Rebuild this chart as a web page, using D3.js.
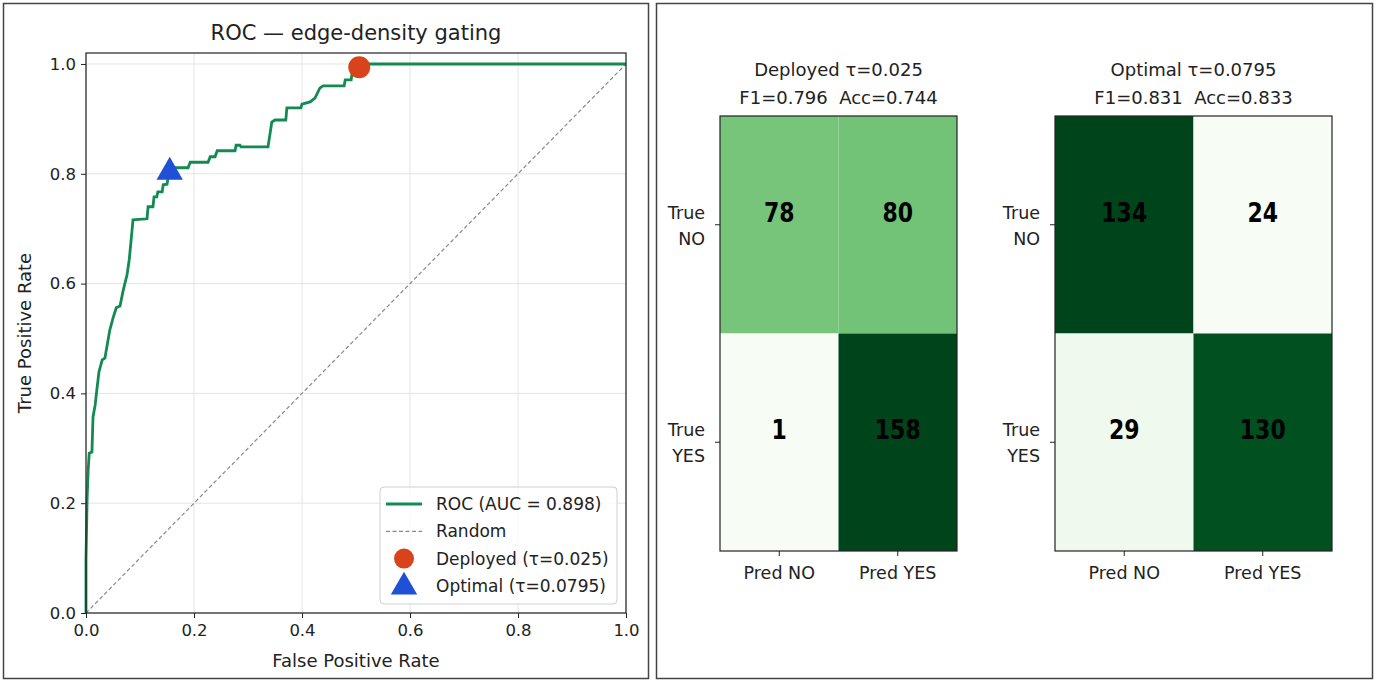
<!DOCTYPE html>
<html>
<head>
<meta charset="utf-8">
<script src="https://cdn.jsdelivr.net/npm/d3@7"></script>
<style>
  body { margin: 0; background: #fff; }
  svg { display: block; font-family: "DejaVu Sans", sans-serif; }
  text { white-space: pre; }
</style>
</head>
<body>
<svg id="chart" width="1379" height="681"></svg>
<script>
// ROC curve points
const rocFpr = [0, 0, 0.002, 0.004, 0.006, 0.011, 0.013, 0.017, 0.020, 0.024, 0.030, 0.035, 0.044, 0.050,
  0.056, 0.063, 0.069, 0.076, 0.080, 0.085, 0.087, 0.113, 0.115, 0.124, 0.126, 0.131, 0.133, 0.141, 0.143,
  0.150, 0.152, 0.156, 0.157, 0.189, 0.193, 0.226, 0.230, 0.239, 0.243, 0.276, 0.278, 0.285, 0.287, 0.337,
  0.341, 0.344, 0.350, 0.370, 0.372, 0.398, 0.400, 0.415, 0.424, 0.433, 0.439, 0.478, 0.480, 0.491, 0.493,
  0.504, 0.507, 0.511, 1.0];
const rocTpr = [0, 0.097, 0.206, 0.260, 0.291, 0.293, 0.357, 0.379, 0.406, 0.439, 0.461, 0.464, 0.515, 0.537,
  0.556, 0.559, 0.588, 0.616, 0.643, 0.694, 0.716, 0.718, 0.740, 0.740, 0.758, 0.758, 0.767, 0.767, 0.780,
  0.781, 0.792, 0.796, 0.811, 0.811, 0.821, 0.821, 0.831, 0.831, 0.842, 0.842, 0.852, 0.852, 0.849, 0.849,
  0.874, 0.894, 0.898, 0.898, 0.920, 0.920, 0.927, 0.931, 0.938, 0.956, 0.960, 0.960, 0.971, 0.971, 0.985,
  0.985, 0.995, 1.0, 1.0];
const deployedPt = [0.506, 0.994];
const optimalPt = [0.155, 0.805];
const legendLabels = ["ROC (AUC = 0.898)", "Random", "Deployed (τ=0.025)", "Optimal (τ=0.0795)"];
const ticks = [0, 0.2, 0.4, 0.6, 0.8, 1.0];

// confusion matrices
const predLabels = ["Pred NO", "Pred YES"];
const trueLabels = [["True", "NO"], ["True", "YES"]];
const deployedCM = [[78, 80], [1, 158]];
const optimalCM = [[134, 24], [29, 130]];
const cmTitles = [["Deployed τ=0.025", "F1=0.796  Acc=0.744"], ["Optimal τ=0.0795", "F1=0.831  Acc=0.833"]];

const svg = d3.select("#chart");

// panel frames
svg.append("rect").attr("x", 3.5).attr("y", 3.5).attr("width", 645).attr("height", 675)
  .attr("fill", "none").attr("stroke", "#444").attr("stroke-width", 1.5);
svg.append("rect").attr("x", 656.5).attr("y", 3.5).attr("width", 716).attr("height", 675)
  .attr("fill", "none").attr("stroke", "#444").attr("stroke-width", 1.5);

// ---------- ROC ----------
const x = d3.scaleLinear().domain([0, 1]).range([86, 626]);
const y = d3.scaleLinear().domain([0, 1.02]).range([613, 53]);

const roc = svg.append("g");

// grid
roc.append("g").selectAll("line").data(ticks).enter().append("line")
  .attr("x1", d => x(d)).attr("x2", d => x(d)).attr("y1", y(1.02)).attr("y2", y(0))
  .attr("stroke", "#e4e4e4").attr("stroke-width", 1);
roc.append("g").selectAll("line").data(ticks).enter().append("line")
  .attr("y1", d => y(d)).attr("y2", d => y(d)).attr("x1", x(0)).attr("x2", x(1))
  .attr("stroke", "#e4e4e4").attr("stroke-width", 1);

// axes
const xAxis = roc.append("g").attr("transform", "translate(0," + y(0) + ")")
  .call(d3.axisBottom(x).tickValues(ticks).tickFormat(d3.format(".1f")).tickSize(5).tickPadding(6));
const yAxis = roc.append("g").attr("transform", "translate(" + x(0) + ",0)")
  .call(d3.axisLeft(y).tickValues(ticks).tickFormat(d3.format(".1f")).tickSize(5).tickPadding(5));
[xAxis, yAxis].forEach(a => {
  a.select(".domain").remove();
  a.selectAll("text").attr("font-size", 16.5).attr("fill", "#222").attr("font-family", "DejaVu Sans");
  a.selectAll("line").attr("stroke", "#222");
});

// random diagonal
roc.append("line").attr("x1", x(0)).attr("y1", y(0)).attr("x2", x(1)).attr("y2", y(1))
  .attr("stroke", "#8a8a8a").attr("stroke-width", 1.2).attr("stroke-dasharray", "4,2.5");

// ROC curve
const line = d3.line().x(d => x(rocFpr[d])).y(d => y(rocTpr[d]));
roc.append("path").datum(d3.range(rocFpr.length)).attr("d", line)
  .attr("fill", "none").attr("stroke", "#138a52").attr("stroke-width", 2.8).attr("stroke-linejoin", "miter");

// frame
roc.append("rect").attr("x", x(0)).attr("y", y(1.02)).attr("width", x(1) - x(0)).attr("height", y(0) - y(1.02))
  .attr("fill", "none").attr("stroke", "#222").attr("stroke-width", 1.2);

// points
const tri = d3.symbol().type(d3.symbolTriangle).size(300);
roc.append("circle").attr("cx", x(deployedPt[0])).attr("cy", y(deployedPt[1])).attr("r", 11)
  .attr("fill", "#d8431b");
roc.append("path").attr("d", tri).attr("transform", "translate(" + x(optimalPt[0]) + "," + (y(optimalPt[1]) + 1) + ")")
  .attr("fill", "#1f50d6");

// titles
roc.append("text").attr("x", (x(0) + x(1)) / 2).attr("y", 40).attr("text-anchor", "middle")
  .attr("font-size", 21).attr("fill", "#222").text("ROC — edge-density gating");
roc.append("text").attr("x", (x(0) + x(1)) / 2).attr("y", 667).attr("text-anchor", "middle")
  .attr("font-size", 18).attr("fill", "#222").text("False Positive Rate");
roc.append("text").attr("transform", "translate(31," + (y(0) + y(1.02)) / 2 + ") rotate(-90)")
  .attr("text-anchor", "middle").attr("font-size", 18).attr("fill", "#222").text("True Positive Rate");

// legend
const lg = roc.append("g").attr("transform", "translate(380,487)");
lg.append("rect").attr("width", 237).attr("height", 117).attr("rx", 4)
  .attr("fill", "#fff").attr("fill-opacity", 0.85).attr("stroke", "#d0d0d0");
legendLabels.forEach((t, i) => {
  const cy = 17 + i * 27.3;
  if (i === 0) lg.append("line").attr("x1", 6).attr("x2", 42).attr("y1", cy).attr("y2", cy)
    .attr("stroke", "#138a52").attr("stroke-width", 2.8);
  if (i === 1) lg.append("line").attr("x1", 6).attr("x2", 42).attr("y1", cy).attr("y2", cy)
    .attr("stroke", "#8a8a8a").attr("stroke-width", 1.2).attr("stroke-dasharray", "4,2.5");
  if (i === 2) lg.append("circle").attr("cx", 24).attr("cy", cy).attr("r", 10).attr("fill", "#d8431b");
  if (i === 3) lg.append("path").attr("d", tri).attr("transform", "translate(24," + (cy + 1) + ")").attr("fill", "#1f50d6");
  lg.append("text").attr("x", 56).attr("y", cy + 6).attr("font-size", 17).attr("fill", "#222").text(t);
});

// ---------- confusion matrices ----------
const panels = [
  {cm: deployedCM, titles: cmTitles[0], x0: 720, x1: 957},
  {cm: optimalCM, titles: cmTitles[1], x0: 1055, x1: 1332}
];
const yb = d3.scaleBand().domain([0, 1]).range([116, 551]);

panels.forEach(p => {
  const xb = d3.scaleBand().domain([0, 1]).range([p.x0, p.x1]);
  const vals = p.cm.flat();
  const color = d3.scaleSequential(d3.interpolateGreens).domain([d3.min(vals), d3.max(vals)]);
  const g = svg.append("g");
  const cells = [];
  p.cm.forEach((row, r) => row.forEach((v, c) => cells.push({r, c, v})));

  g.selectAll("rect.cell").data(cells).enter().append("rect")
    .attr("x", d => xb(d.c)).attr("y", d => yb(d.r))
    .attr("width", xb.bandwidth()).attr("height", yb.bandwidth())
    .attr("fill", d => color(d.v));

  g.selectAll("text.val").data(cells).enter().append("text")
    .attr("transform", d => "translate(" + (xb(d.c) + xb.bandwidth() / 2) + "," + (yb(d.r) + yb.bandwidth() / 2 - 3) + ") scale(1,1.2)")
    .attr("text-anchor", "middle").attr("font-size", 22).attr("font-weight", "bold").attr("fill", "#000")
    .text(d => d.v);

  g.append("rect").attr("x", p.x0).attr("y", 116).attr("width", p.x1 - p.x0).attr("height", 435)
    .attr("fill", "none").attr("stroke", "#222").attr("stroke-width", 1.2);

  // ticks
  [0, 1].forEach(i => {
    const cx = xb(i) + xb.bandwidth() / 2;
    g.append("line").attr("x1", cx).attr("x2", cx).attr("y1", 551).attr("y2", 556).attr("stroke", "#222");
    g.append("text").attr("x", cx).attr("y", 579).attr("text-anchor", "middle").attr("font-size", 17.5)
      .attr("fill", "#222").text(predLabels[i]);
    const cy = yb(i) + yb.bandwidth() / 2;
    g.append("line").attr("x1", p.x0 - 5).attr("x2", p.x0).attr("y1", cy).attr("y2", cy).attr("stroke", "#222");
    trueLabels[i].forEach((t, k) => {
      g.append("text").attr("x", p.x0 - 15).attr("y", cy - 6 + k * 26).attr("text-anchor", "end")
        .attr("font-size", 17.5).attr("fill", "#222").text(t);
    });
  });

  p.titles.forEach((t, k) => {
    g.append("text").attr("x", (p.x0 + p.x1) / 2).attr("y", 76 + k * 28).attr("text-anchor", "middle")
      .attr("font-size", 18).attr("fill", "#222").text(t);
  });
});
</script>
</body>
</html>
